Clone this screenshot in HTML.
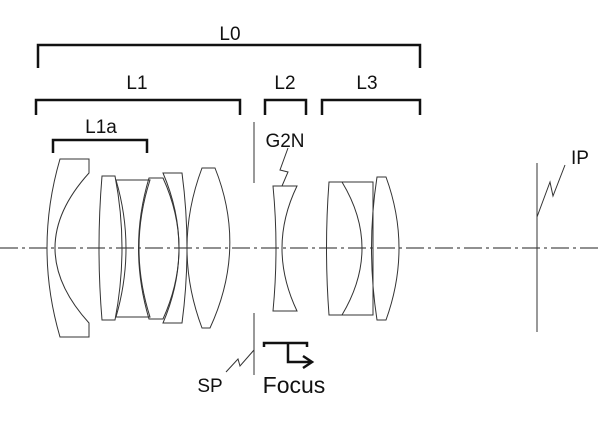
<!DOCTYPE html>
<html><head><meta charset="utf-8"><style>html,body{margin:0;padding:0;background:#fff}svg{display:block}</style></head>
<body>
<svg width="600" height="423" viewBox="0 0 600 423" xmlns="http://www.w3.org/2000/svg" font-family="'Liberation Sans', sans-serif">
<rect width="600" height="423" fill="#fff"/>
<line x1="0" y1="248" x2="600" y2="248" stroke="#222" stroke-width="1" stroke-dasharray="18,4,3,4"/>
<g fill="none" stroke="#111" stroke-width="2.5">
<path d="M38,68 V45 H420 V68"/>
<path d="M36,115 V100 H240 V115"/>
<path d="M265,115 V100 H306 V115"/>
<path d="M322,115 V100 H420 V115"/>
<path d="M53,153 V140 H147 V153"/>
<path d="M264,347 V343 H307 V347"/>
<path d="M288,343 V362 H310"/>
<path d="M303,356 L312,362 L303,368"/>
</g>
<g font-size="19" fill="#111" text-anchor="middle">
<text x="230" y="40">L0</text>
<text x="137" y="89">L1</text>
<text x="285" y="89">L2</text>
<text x="367" y="89">L3</text>
<text x="101" y="133">L1a</text>
<text x="285" y="147">G2N</text>
<text x="210" y="392">SP</text>
<text x="580" y="164">IP</text>
<text x="294" y="393" font-size="23">Focus</text>
</g>
<g fill="none" stroke="#333" stroke-width="1">
<line x1="254" y1="122" x2="254" y2="183"/>
<line x1="254" y1="313" x2="254" y2="375"/>
<path d="M226,372 L238,359 L240,366 L254,350"/>
<line x1="537" y1="163" x2="537" y2="332"/>
<path d="M537,217 L550,182 L553,196 L565,165"/>
<path d="M288,148 L280,170 L288,172 L282,186"/>
<path d="M60,159 H89 V173 Q21,248 89,323 V337 H60 Q34,248 60,159 Z"/>
<path d="M102,176 H115 Q129,248 115,320 H102 Q96,248 102,176 Z"/>
<path d="M116,180 H150 Q128,248 150,317 H116 Q136,248 116,180 Z"/>
<path d="M149,178 H163 Q195,248 163,319 H149 Q128,248 149,178 Z"/>
<path d="M163,173 H182 Q192,248 182,323 H163 Q195,248 163,173 Z"/>
<path d="M202,168 H215 Q247,248 210,328 H202 Q172,248 202,168 Z"/>
<path d="M273,186 H297 Q267,248 297,311 H273 Q279,248 273,186 Z"/>
<path d="M329,182 H373 V315 H329 Q324,248 329,182 Z"/>
<path d="M342,182 Q382,248 342,315"/>
<path d="M377,177 H386 Q412,248 386,320 H377 Q366,248 377,177 Z"/>
</g>
</svg>
</body></html>
